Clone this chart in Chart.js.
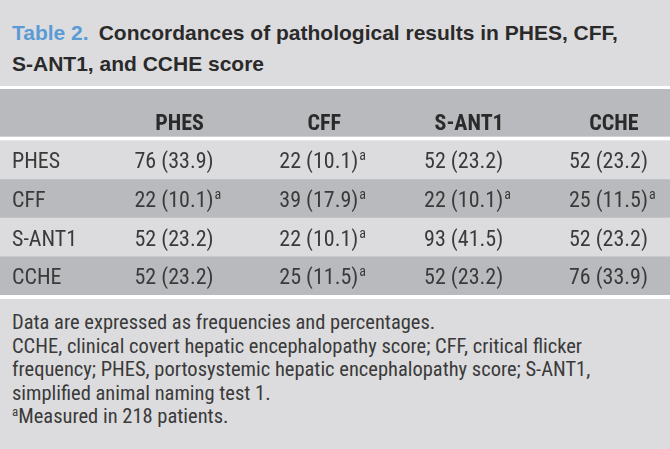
<!DOCTYPE html>
<html>
<head>
<meta charset="utf-8">
<script src="https://cdn.jsdelivr.net/npm/chart.js@4"></script>
<style>
  html, body { margin: 0; padding: 0; }
  body {
    width: 670px; height: 449px; overflow: hidden;
    background: #dcdcde;
    color: #2a2a2a;
  }
  .title {
    height: 89px; box-sizing: border-box;
    padding: 16.5px 12px 0 12px;
    font-family: "Liberation Sans", Arial, sans-serif;
    font-size: 21px; font-weight: bold; line-height: 31px;
    border-bottom: 3px solid #ffffff;
  }
  .title .num { color: #5b9bd5; margin-right: 10px; }
  .table-wrap { position: relative; width: 670px; height: 206px; }
  .notes {
    border-top: 4px solid #ffffff;
    padding: 12px 12px 0 12px;
    font-family: "Roboto Condensed", "DejaVu Sans Condensed", sans-serif;
    font-size: 20.5px; line-height: 23.5px; color: #3a3a3a;
  }
  .notes sup { font-size: 13px; vertical-align: 7px; line-height: 0; }
</style>
</head>
<body>
<div class="title"><span class="num">Table 2.</span>Concordances of pathological results in PHES, CFF,<br>S-ANT1, and CCHE score</div>
<div class="table-wrap"><canvas id="concordanceTable"></canvas></div>
<div class="notes">
  Data are expressed as frequencies and percentages.<br>
  CCHE, clinical covert hepatic encephalopathy score; CFF, critical flicker<br>
  frequency; PHES, portosystemic hepatic encephalopathy score; S-ANT1,<br>
  simplified animal naming test 1.<br>
  <sup>a</sup>Measured in 218 patients.
</div>
<script>
const columns = ['PHES', 'CFF', 'S-ANT1', 'CCHE'];
const rows = ['PHES', 'CFF', 'S-ANT1', 'CCHE'];
const counts = [
  [76, 22, 52, 52],
  [22, 39, 22, 25],
  [52, 22, 93, 52],
  [52, 25, 52, 76]
];
const percents = [
  [33.9, 10.1, 23.2, 23.2],
  [10.1, 17.9, 10.1, 11.5],
  [23.2, 10.1, 41.5, 23.2],
  [23.2, 11.5, 23.2, 33.9]
];
// 1 = footnote a (measured in 218 patients)
const measured218 = [
  [0, 1, 0, 0],
  [1, 1, 1, 1],
  [0, 1, 0, 0],
  [0, 1, 0, 0]
];

const FONT = '"Roboto Condensed", "DejaVu Sans Condensed", sans-serif';
const LIGHT = '#dcdcde';
const DARK = '#b9babd';

const cells = [];
rows.forEach(function (r, ri) {
  columns.forEach(function (c, ci) {
    cells.push({ x: ci + 1, y: ri, count: counts[ri][ci], pct: percents[ri][ci], sup: measured218[ri][ci] });
  });
});

const tablePlugin = {
  id: 'tablePlugin',
  beforeDatasetsDraw: function (chart) {
    const ctx = chart.ctx;
    const ys = chart.scales.y;
    const w = chart.width;
    const hTop = ys.getPixelForValue(ys.min);
    const hBot = ys.getPixelForValue(-0.5);
    ctx.save();
    // header band + white rule under it
    ctx.fillStyle = DARK;
    ctx.fillRect(0, hTop, w, hBot - hTop);
    ctx.fillStyle = '#ffffff';
    ctx.fillRect(0, hBot - 4, w, 4);
    // alternating body rows
    rows.forEach(function (r, i) {
      const top = ys.getPixelForValue(i - 0.5);
      const bot = ys.getPixelForValue(i + 0.5);
      ctx.fillStyle = i % 2 === 0 ? LIGHT : DARK;
      ctx.fillRect(0, top, w, bot - top);
    });
    ctx.restore();
  },
  afterDatasetsDraw: function (chart) {
    const ctx = chart.ctx;
    const xs = chart.scales.x;
    const ys = chart.scales.y;
    ctx.save();
    ctx.textBaseline = 'alphabetic';
    // column headers
    ctx.font = 'bold 22px ' + FONT;
    ctx.fillStyle = '#2a2a2a';
    ctx.textAlign = 'center';
    const hy = ys.getPixelForValue(-1.02) + 9.5;
    columns.forEach(function (c, ci) {
      ctx.fillText(c, xs.getPixelForValue(ci + 1) + 45, hy);
    });
    // row labels
    ctx.font = '22px ' + FONT;
    ctx.fillStyle = '#3a3a3a';
    ctx.textAlign = 'left';
    rows.forEach(function (r, ri) {
      ctx.fillText(r, 12, ys.getPixelForValue(ri) + 8.5);
    });
    // cells, placed at the dataset's points
    const meta = chart.getDatasetMeta(0);
    meta.data.forEach(function (pt, i) {
      const cell = cells[i];
      const txt = cell.count + ' (' + cell.pct.toFixed(1) + ')';
      ctx.font = '22px ' + FONT;
      ctx.fillText(txt, pt.x, pt.y + 8.5);
      if (cell.sup) {
        const tw = ctx.measureText(txt).width;
        ctx.font = '14px ' + FONT;
        ctx.fillText('a', pt.x + tw + 1, pt.y + 0.5);
      }
    });
    ctx.restore();
  }
};

new Chart(document.getElementById('concordanceTable'), {
  type: 'scatter',
  data: {
    datasets: [{
      data: cells,
      pointRadius: 0,
      pointHoverRadius: 0
    }]
  },
  options: {
    responsive: true,
    maintainAspectRatio: false,
    animation: false,
    events: [],
    layout: { padding: 0 },
    plugins: { legend: { display: false }, tooltip: { enabled: false } },
    scales: {
      x: { type: 'linear', display: false, min: 1 - 134.5 / 144.8, max: 1 + 535.5 / 144.8 },
      y: { type: 'linear', display: false, reverse: true, min: -1.84, max: 3.5 }
    }
  },
  plugins: [tablePlugin]
});
</script>
</body>
</html>
